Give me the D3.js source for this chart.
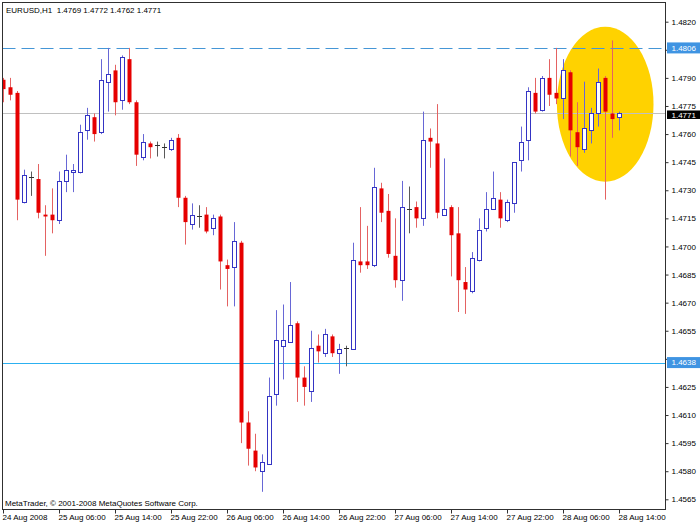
<!DOCTYPE html>
<html><head><meta charset="utf-8">
<script src="https://cdn.jsdelivr.net/npm/d3@7"></script>
<style>
body{margin:0;background:#fff;}
svg{display:block;}
text{font-family:"Liberation Sans",Arial,sans-serif;font-size:8px;}
</style></head><body>
<svg id="c" width="700" height="525"></svg>
<script>
const symbolTitle = "EURUSD,H1";
const opens = [1.4789,1.4785,1.4782,1.4724,1.4737,1.4736,1.4717,1.4717,1.4714,1.4735,1.4740,1.4740,1.4762,1.4769,1.4761,1.4788,1.4794,1.4778,1.4800,1.4777,1.4748,1.4755,1.4754,1.4753,1.4752,1.4758,1.4726,1.4712,1.4716,1.4717,1.4710,1.4716,1.4690,1.4689,1.4702,1.4606,1.4591,1.4580,1.4584,1.4621,1.4647,1.4649,1.4659,1.4630,1.4623,1.4647,1.4643,1.4652,1.4643,1.4646,1.4645,1.4692,1.4692,1.4690,1.4731,1.4719,1.4695,1.4682,1.4720,1.4721,1.4715,1.4758,1.4755,1.4717,1.4721,1.4707,1.4681,1.4676,1.4693,1.4710,1.4720,1.4725,1.4714,1.4723,1.4746,1.4757,1.4782,1.4773,1.4790,1.4782,1.4779,1.4793,1.4761,1.4752,1.4762,1.4771,1.4790,1.4771,1.4769];
const highs = [1.4790,1.4790,1.4783,1.4741,1.4740,1.4744,1.4722,1.4731,1.4740,1.4749,1.4744,1.4765,1.4774,1.4771,1.4800,1.4806,1.4797,1.4802,1.4806,1.4778,1.4760,1.4756,1.4756,1.4755,1.4758,1.4760,1.4727,1.4723,1.4722,1.4721,1.4717,1.4717,1.4693,1.4713,1.4703,1.4612,1.4600,1.4589,1.4630,1.4666,1.4669,1.4681,1.4660,1.4636,1.4655,1.4653,1.4656,1.4653,1.4648,1.4647,1.4702,1.4721,1.4711,1.4742,1.4734,1.4728,1.4715,1.4735,1.4732,1.4724,1.4772,1.4763,1.4776,1.4747,1.4722,1.4721,1.4689,1.4697,1.4715,1.4729,1.4740,1.4729,1.4725,1.4745,1.4764,1.4785,1.4790,1.4791,1.4800,1.4806,1.4800,1.4794,1.4777,1.4788,1.4774,1.4795,1.4791,1.4810,1.4772];
const lows = [1.4777,1.4778,1.4714,1.4723,1.4727,1.4715,1.4695,1.4707,1.4712,1.4729,1.4729,1.4739,1.4757,1.4756,1.4760,1.4772,1.4770,1.4773,1.4776,1.4743,1.4746,1.4747,1.4748,1.4747,1.4751,1.4721,1.4701,1.4709,1.4710,1.4707,1.4706,1.4677,1.4668,1.4668,1.4595,1.4583,1.4580,1.4569,1.4584,1.4615,1.4629,1.4649,1.4617,1.4615,1.4617,1.4638,1.4641,1.4641,1.4632,1.4636,1.4645,1.4686,1.4688,1.4689,1.4713,1.4694,1.4678,1.4671,1.4707,1.4710,1.4711,1.4742,1.4715,1.4717,1.4684,1.4665,1.4664,1.4675,1.4692,1.4708,1.4720,1.4710,1.4713,1.4718,1.4740,1.4746,1.4771,1.4772,1.4775,1.4776,1.4768,1.4748,1.4743,1.4750,1.4755,1.4764,1.4725,1.4758,1.4762];
const closes = [1.4784,1.4781,1.4725,1.4738,1.4737,1.4718,1.4716,1.4714,1.4735,1.4741,1.4741,1.4761,1.4770,1.4760,1.4789,1.4792,1.4777,1.4801,1.4777,1.4749,1.4756,1.4753,1.4754,1.4753,1.4757,1.4726,1.4713,1.4717,1.4716,1.4708,1.4715,1.4692,1.4688,1.4703,1.4606,1.4592,1.4582,1.4585,1.4620,1.4650,1.4650,1.4658,1.4630,1.4625,1.4646,1.4644,1.4653,1.4643,1.4645,1.4646,1.4693,1.4690,1.4690,1.4732,1.4718,1.4696,1.4682,1.4721,1.4720,1.4715,1.4757,1.4756,1.4718,1.4720,1.4706,1.4682,1.4677,1.4694,1.4709,1.4720,1.4726,1.4715,1.4724,1.4745,1.4756,1.4783,1.4772,1.4790,1.4781,1.4779,1.4794,1.4762,1.4753,1.4763,1.4771,1.4788,1.4772,1.4768,1.4771];
const timeTickIndex = [0,8,16,24,32,40,48,56,64,72,80,88];
const timeTickLabels = ["24 Aug 2008","25 Aug 06:00","25 Aug 14:00","25 Aug 22:00","26 Aug 06:00","26 Aug 14:00","26 Aug 22:00","27 Aug 06:00","27 Aug 14:00","27 Aug 22:00","28 Aug 06:00","28 Aug 14:00"];
const priceTicks = [1.4565,1.4580,1.4595,1.4610,1.4625,1.4640,1.4655,1.4670,1.4685,1.4700,1.4715,1.4730,1.4745,1.4760,1.4775,1.4790,1.4805,1.4820];
// tick labels hidden behind the level boxes in the reference
const hiddenTickLabels = [1.4640, 1.4805];
const dashedLevel = 1.4806;
const supportLevel = 1.4638;
const bidPrice = 1.4771;
const highlightBars = [79.13, 92.93];
const highlightPrices = [1.47346, 1.48173];
const copyright = "MetaTrader, \u00A9 2001-2008 MetaQuotes Software Corp.";

const svg = d3.select("#c");
const L = 2.5, T = 2.5, R = 665.5, B = 509.5;
const x = d3.scaleLinear().domain([0, 88]).range([3, 619]);
const y = d3.scaleLinear().domain([1.4565, 1.4820]).range([499.3, 21.7]);
const fmt = d3.format(".4f");

svg.append("defs").append("clipPath").attr("id","pc")
  .append("rect").attr("x",L).attr("y",T).attr("width",R-L).attr("height",B-T);
const g = svg.append("g").attr("clip-path","url(#pc)");

// highlight ellipse
const ex0 = x(highlightBars[0]), ex1 = x(highlightBars[1]);
const ey0 = y(highlightPrices[1]), ey1 = y(highlightPrices[0]);
g.append("ellipse").attr("cx",(ex0+ex1)/2).attr("cy",(ey0+ey1)/2)
  .attr("rx",(ex1-ex0)/2).attr("ry",(ey1-ey0)/2).attr("fill","#ffd200");

// horizontal levels
const hl = (p, color, dash) => {
  const yy = Math.round(y(p)) + 0.5;
  const l = g.append("line").attr("x1",L).attr("x2",R).attr("y1",yy).attr("y2",yy)
    .attr("stroke",color).attr("stroke-width",1);
  if (dash) l.attr("stroke-dasharray",dash);
};
hl(bidPrice, "#c0c0c0");
hl(dashedLevel, "#4596d6", "13,6");
hl(supportLevel, "#2cb0f0");

// candles
const bars = d3.range(opens.length).map(i => ({i, o:opens[i], h:highs[i], l:lows[i], c:closes[i]}));
const cg = g.selectAll("g.candle").data(bars).join("g").attr("class","candle");
cg.each(function(d){
  const s = d3.select(this);
  const cx = Math.round(x(d.i)) + 0.5;
  const bull = d.c > d.o, bear = d.c < d.o;
  const wickCol = bull ? "#6767d6" : bear ? "#e46262" : "#5a5a5a";
  s.append("line").attr("x1",cx).attr("x2",cx).attr("y1",y(d.h)).attr("y2",y(d.l))
    .attr("stroke",wickCol).attr("stroke-width",1);
  if (bull) {
    const yt = Math.round(y(d.c)) + 0.5, yb = Math.round(y(d.o)) + 0.5;
    s.append("rect").attr("x",cx-2).attr("y",yt).attr("width",4).attr("height",Math.max(1,yb-yt))
      .attr("fill","#fff").attr("stroke","#3434c4").attr("stroke-width",1);
  } else if (bear) {
    const yt = y(d.o), yb = y(d.c);
    s.append("rect").attr("x",cx-2).attr("y",yt).attr("width",4).attr("height",Math.max(1.5,yb-yt))
      .attr("fill","#e60000");
  } else {
    const yy = Math.round(y(d.o)) + 0.5;
    s.append("line").attr("x1",cx-2.5).attr("x2",cx+2.5).attr("y1",yy).attr("y2",yy)
      .attr("stroke","#303030").attr("stroke-width",1);
  }
});

// frame
svg.append("rect").attr("x",L).attr("y",T).attr("width",R-L).attr("height",B-T)
  .attr("fill","none").attr("stroke","#303030").attr("stroke-width",1);

// right price axis
const ya = svg.append("g").attr("transform",`translate(${R},0)`)
  .call(d3.axisRight(y).tickValues(priceTicks)
    .tickFormat(v => hiddenTickLabels.some(h => Math.abs(h - v) < 1e-6) ? "" : fmt(v))
    .tickSize(3).tickPadding(3));
ya.select(".domain").remove();
ya.selectAll("line").attr("stroke","#303030");
ya.selectAll("text").attr("fill","#000").style("font-size","8px").style("font-family","'Liberation Sans',Arial,sans-serif");

// bottom time axis
const xa = svg.append("g").attr("transform",`translate(0,${B})`)
  .call(d3.axisBottom(x).tickValues(timeTickIndex).tickFormat((d,k)=>timeTickLabels[k]).tickSize(4).tickPadding(1));
xa.select(".domain").remove();
xa.selectAll("line").attr("stroke","#303030");
xa.selectAll("text").attr("text-anchor","start").attr("x",-1).attr("fill","#000")
  .style("font-size","8px").style("font-family","'Liberation Sans',Arial,sans-serif");

// price level boxes
const box = (p, bg, up, down) => {
  const yy = y(p);
  svg.append("rect").attr("x",R+1.5).attr("y",yy-up).attr("width",700-R-1.5).attr("height",up+down).attr("fill",bg);
  svg.append("text").attr("x",R+6).attr("y",yy + (down-up)/2).attr("dy","0.35em").attr("fill","#fff").text(fmt(p));
};
box(dashedLevel, "#3f94e2", 5.5, 5.5);
box(supportLevel, "#3f94e2", 5.5, 5.5);
box(bidPrice, "#000", 3, 5.5);

// header and copyright
const last = opens.length - 1;
svg.append("text").attr("x",6).attr("y",12.5).attr("fill","#000").style("white-space","pre")
  .text(`${symbolTitle}  ${fmt(opens[last])} ${fmt(highs[last])} ${fmt(lows[last])} ${fmt(closes[last])}`);
svg.append("text").attr("x",5).attr("y",506).attr("fill","#000").text(copyright);
</script>
</body></html>
